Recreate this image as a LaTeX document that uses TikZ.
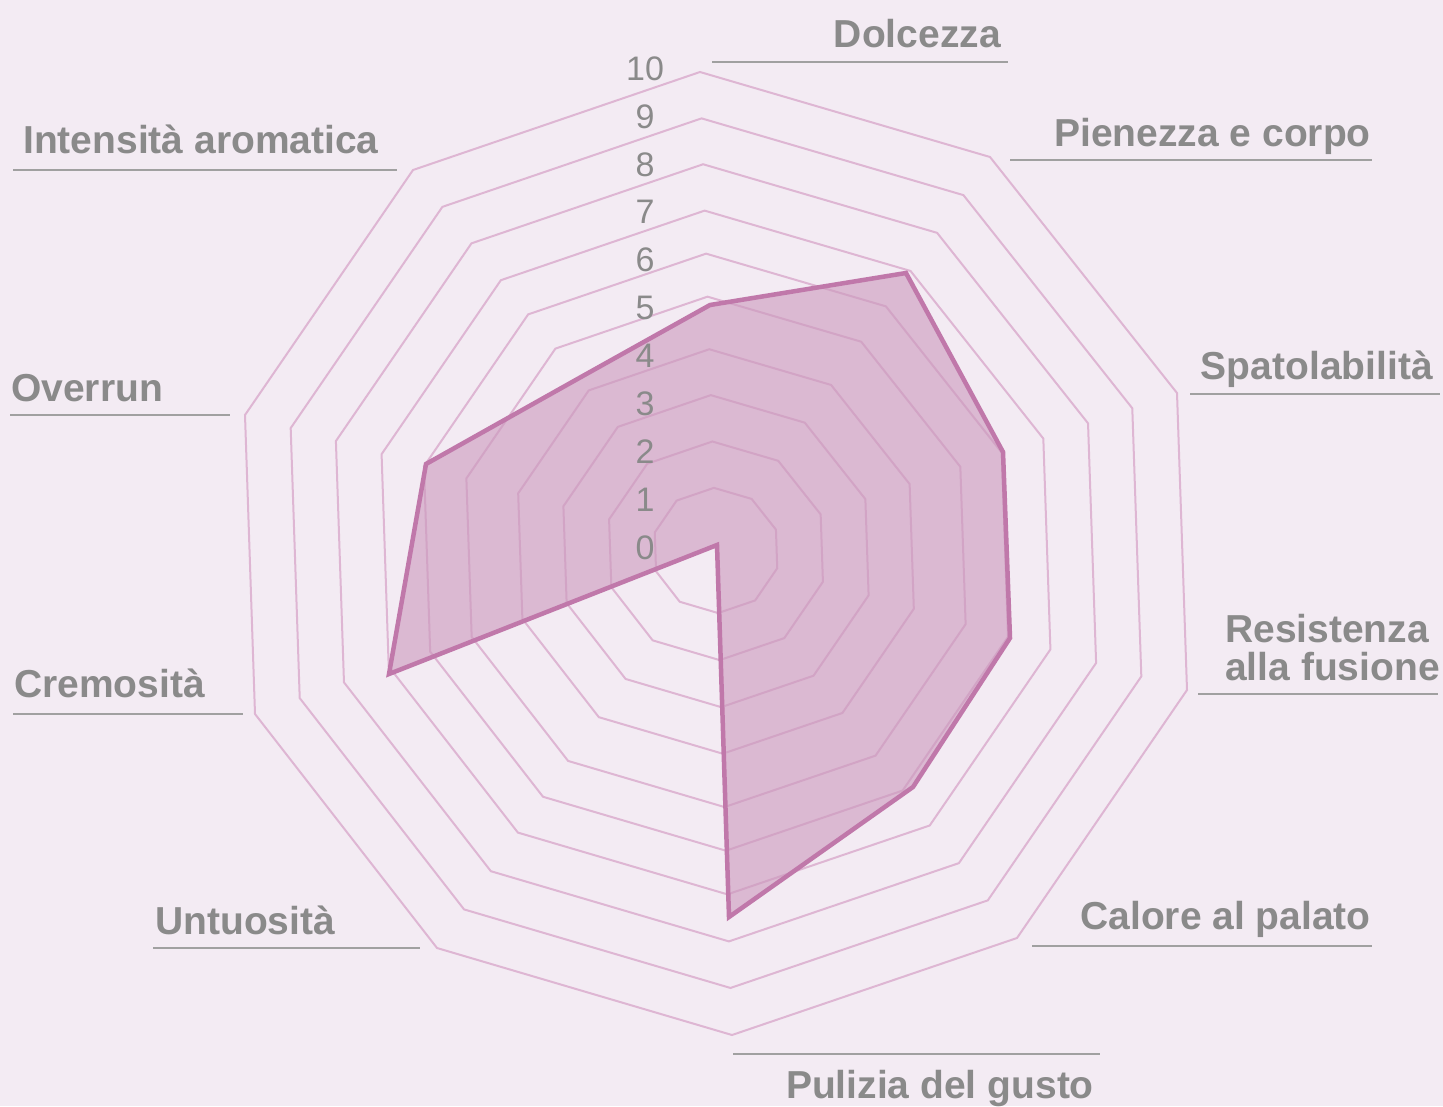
\documentclass[tikz,border=0pt]{standalone}
\usepackage{fontspec}
\setmainfont{Liberation Sans}
\usetikzlibrary{calc}
\definecolor{bgc}{RGB}{243,235,243}
\definecolor{gridc}{RGB}{222,182,211}
\definecolor{datac}{RGB}{192,120,170}
\definecolor{fillc}{RGB}{203,152,188}
\definecolor{labc}{RGB}{138,138,138}
\definecolor{linec}{RGB}{160,160,160}
\tikzset{
  gridline/.style={draw=gridc, line width=2pt},
  datafill/.style={fill=fillc, fill opacity=0.6},
  dataline/.style={draw=datac, line width=4.5pt},
  axlabel/.style={text=labc, font=\fontsize{39}{38}\selectfont\bfseries, inner sep=0pt},
  ticklab/.style={text=labc, font=\fontsize{34}{34}\selectfont, inner sep=0pt},
  uline/.style={draw=linec, line width=2.5pt}
}
\begin{document}
\begin{tikzpicture}[x=1pt,y=-1pt]
\fill[bgc] (0,0) rectangle (1443,1106);
\useasboundingbox (0,0) rectangle (1443,1106);
% centre and outer (value 10) vertices
\coordinate (C) at (716,550);
\coordinate (V1) at (700,72);
\coordinate (V2) at (990,157);
\coordinate (V3) at (1177,393);
\coordinate (V4) at (1187,690);
\coordinate (V5) at (1017,938);
\coordinate (V6) at (732,1035);
\coordinate (V7) at (437,948);
\coordinate (V8) at (255,714);
\coordinate (V9) at (245,415);
\coordinate (V10) at (413,170);
% grid rings
\foreach \f in {0.13,0.227,0.324,0.42,0.53,0.62,0.71,0.807,0.903,1}{
  \draw[gridline] ($(C)!\f!(V1)$) -- ($(C)!\f!(V2)$) -- ($(C)!\f!(V3)$) -- ($(C)!\f!(V4)$) -- ($(C)!\f!(V5)$) -- ($(C)!\f!(V6)$) -- ($(C)!\f!(V7)$) -- ($(C)!\f!(V8)$) -- ($(C)!\f!(V9)$) -- ($(C)!\f!(V10)$) -- cycle;
}
% data
\coordinate (D1) at (710,305);
\coordinate (D2) at (906,273);
\coordinate (D3) at (1003,452);
\coordinate (D4) at (1010,638);
\coordinate (D5) at (913,787);
\coordinate (D6) at (729,917);
\coordinate (D7) at (717,545);
\coordinate (D8) at (389,674);
\coordinate (D9) at (426,464);
\coordinate (D10) at (581,377);
\fill[datafill] (D1) -- (D2) -- (D3) -- (D4) -- (D5) -- (D6) -- (D7) -- (D8) -- (D9) -- (D10) -- cycle;
\draw[dataline] (D1) -- (D2) -- (D3) -- (D4) -- (D5) -- (D6) -- (D7) -- (D8) -- (D9) -- (D10) -- cycle;
% scale numbers
\foreach \k in {0,...,10}{
  \node[ticklab] (t\k) at (645,{547.5-47.9*\k}) {\k};
}
% axis labels
\node[axlabel, anchor=base east] (l1) at (1001,47) {Dolcezza};
\node[axlabel, anchor=base east] (l2) at (1371,146) {Pienezza e corpo};
\node[axlabel, anchor=base east] (l3) at (1433,379) {Spatolabilità};
\node[axlabel, anchor=base west] (l4a) at (1225,642) {Resistenza};
\node[axlabel, anchor=base west] (l4b) at (1225,680) {alla fusione};
\node[axlabel, anchor=base east] (l5) at (1371,929) {Calore al palato};
\node[axlabel, anchor=base east] (l6) at (1094,1098) {Pulizia del gusto};
\node[axlabel, anchor=base west] (l7) at (155,934) {Untuosità};
\node[axlabel, anchor=base west] (l8) at (14,697) {Cremosità};
\node[axlabel, anchor=base west] (l9) at (11,401) {Overrun};
\node[axlabel, anchor=base west] (l10) at (23,153) {Intensità aromatica};
% underlines
\draw[uline] (712,62) -- (1008,62);
\draw[uline] (1010,160) -- (1372,160);
\draw[uline] (1190,394) -- (1440,394);
\draw[uline] (1198,694) -- (1438,694);
\draw[uline] (1032,946) -- (1372,946);
\draw[uline] (733,1054) -- (1100,1054);
\draw[uline] (153,948) -- (420,948);
\draw[uline] (13,714) -- (243,714);
\draw[uline] (10,415) -- (230,415);
\draw[uline] (13,170) -- (397,170);
\end{tikzpicture}
\end{document}
